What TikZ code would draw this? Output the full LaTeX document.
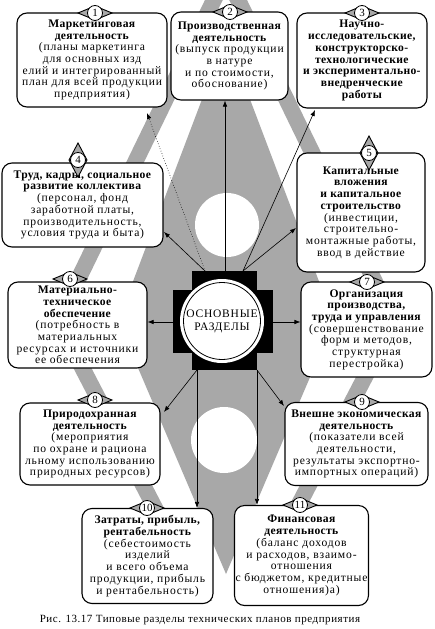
\documentclass[tikz,border=0pt]{standalone}
\usepackage{fontspec}
\setmainfont{Liberation Serif}
\newfontfamily\boxfont[LetterSpace=7, BoldFeatures={LetterSpace=3}]{Liberation Serif}
\newfontfamily\capfont[LetterSpace=5]{Liberation Serif}
\usetikzlibrary{arrows.meta}
\definecolor{bgray}{RGB}{168,168,168}
\newcommand\hbadge[3]{%
  \path[badgefill] (#2) +(-17,0) -- +(0,-7) -- +(17,0) -- +(0,7) -- cycle;
  \node[numc] (#1) at (#2) {#3};}
\newcommand\vbadge[3]{%
  \path[badgefill] (#2) +(0,-17) -- +(9,0) -- +(0,17) -- +(-9,0) -- cycle;
  \node[numc] (#1) at (#2) {#3};}
\begin{document}
\begin{tikzpicture}[x=1pt,y=-1pt,
  box/.style={draw, line width=1.1pt, rounded corners=10pt, fill=white, align=center,
    inner sep=1pt, font=\boxfont\fontsize{11.6}{11.7}\selectfont},
  conn/.style={line width=0.6pt, -{Latex[length=6pt,width=4.5pt]}},
  dconn/.style={conn, dotted},
  badgefill/.style={draw, fill=bgray, line width=0.9pt},
  numc/.style={circle, draw, fill=white, line width=0.8pt, inner sep=0pt,
    minimum size=15pt, font=\fontsize{11}{11}\selectfont},
]
\useasboundingbox (0,0) rectangle (435,629);
\fill[white] (0,0) rectangle (435,629);
% background ornament
\begin{scope}
\clip (0,0) rectangle (435,600);
\draw[bgray, line width=16pt, line join=miter] (226,-25) -- (58,321) -- (226,645) -- (394,321) -- cycle;
\fill[bgray] (226,36) -- (118,321) -- (226,574) -- (334,321) -- cycle;
\fill[white] (227,225) circle (32);
\fill[white] (224,440) circle (33);
\end{scope}

% centre
\fill[black] (192,271) rectangle (257,370);
\fill[black] (173,290) rectangle (273,353);
\node[circle, fill=white, minimum size=84pt, inner sep=0pt] (c) at (222,321) {};
\draw[line width=0.8pt] (c.center) circle (38.5);
\node[align=center, font=\boxfont\fontsize{11.5}{13}\selectfont] (ct) at (222,321) {ОСНОВНЫЕ\\РАЗДЕЛЫ};

% boxes
\node[box, minimum width=150pt, minimum height=94pt] (b1) at (92,60)
 {\textbf{Маркетинговая}\\\textbf{деятельность}\\(планы маркетинга\\для основных изд\\елий и интегрированный\\план для всей продукции\\предприятия)};
\node[box, minimum width=117pt, minimum height=88pt] (b2) at (229.5,56)
 {\textbf{Производственная}\\\textbf{деятельность}\\(выпуск продукции\\в натуре\\и по стоимости,\\обоснование)};
\node[box, minimum width=130pt, minimum height=95pt] (b3) at (362,60.5)
 {\textbf{Научно-}\\\textbf{исследовательские,}\\\textbf{конструкторско-}\\\textbf{технологические}\\\textbf{и экспериментально-}\\\textbf{внедренческие}\\\textbf{работы}};
\node[box, minimum width=161pt, minimum height=84pt] (b4) at (82.5,205)
 {\textbf{Труд, кадры, социальное}\\\textbf{развитие коллектива}\\(персонал, фонд\\заработной платы,\\производительность,\\условия труда и быта)};
\node[box, minimum width=128pt, minimum height=119pt] (b5) at (361,212.5)
 {\textbf{Капитальные}\\\textbf{вложения}\\\textbf{и капитальное}\\\textbf{строительство}\\(инвестиции,\\строительно-\\монтажные работы,\\ввод в действие};
\node[box, minimum width=139pt, minimum height=86pt] (b6) at (77.5,325)
 {\textbf{Материально-}\\\textbf{техническое}\\\textbf{обеспечение}\\(потребность в\\материальных\\ресурсах и источники\\ее обеспечения};
\node[box, minimum width=131pt, minimum height=95pt] (b7) at (366.5,329.5)
 {\textbf{Организация}\\\textbf{производства,}\\\textbf{труда и управления}\\(совершенствование\\форм и методов,\\структурная\\перестройка)};
\node[box, minimum width=140pt, minimum height=82pt] (b8) at (90,444)
 {\textbf{Природохранная}\\\textbf{деятельность}\\(мероприятия\\по охране и рациона\\льному использованию\\природных ресурсов)};
\node[box, minimum width=143pt, minimum height=83pt] (b9) at (356.5,444)
 {\textbf{Внешне экономическая}\\\textbf{деятельность}\\(показатели всей\\деятельности,\\результаты экспортно-\\импортных операций)};
\node[box, minimum width=131pt, minimum height=95pt] (b10) at (147.5,556)
 {\textbf{Затраты, прибыль,}\\\textbf{рентабельность}\\(себестоимость\\изделий\\и всего объема\\продукции, прибыль\\и рентабельность)};
\node[box, minimum width=133pt, minimum height=100pt] (b11) at (301.5,555.5)
 {\textbf{Финансовая}\\\textbf{деятельность}\\(баланс доходов\\и расходов, взаимо-\\отношения\\с бюджетом, кредитные\\отношения)а)};

% badges
\hbadge{n1}{95,13}{1}
\hbadge{n2}{230,12}{2}
\hbadge{n3}{362,13}{3}
\vbadge{n4}{78,160}{4}
\vbadge{n5}{369,153}{5}
\hbadge{n6}{70,279}{6}
\hbadge{n7}{367,282}{7}
\hbadge{n8}{95,400}{8}
\hbadge{n9}{362,402}{9}
\hbadge{n10}{147,508}{10}
\hbadge{n11}{300,505}{11}

% connectors
\coordinate (tl) at (205,271);
\coordinate (tc) at (225,271);
\coordinate (tr) at (243,271);
\coordinate (ml) at (173,322);
\coordinate (mr) at (273,322);
\coordinate (bl) at (197,370);
\coordinate (br) at (257,370);
\coordinate (e1) at (147,113);
\coordinate (e3) at (315,110);
\coordinate (e4) at (164,232);
\coordinate (e5) at (296,228);
\coordinate (e8) at (164,412);
\coordinate (e9) at (284,406);
\draw[dconn] (tl) -- (e1);
\draw[conn] (tc) -- (tc |- b2.south);
\draw[conn] (tr) -- (e3);
\draw[conn] (tl) -- (e4);
\draw[conn] (tr) -- (e5);
\draw[conn] (ml) -- (ml -| b6.east);
\draw[conn] (mr) -- (mr -| b7.west);
\draw[conn] (bl) -- (e8);
\draw[conn] (br) -- (e9);
\draw[conn] (bl) -- (bl |- b10.north);
\draw[conn] (br) -- (br |- b11.north);

% caption
\node[font=\capfont\fontsize{11}{12}\selectfont] (cap) at (200,620) {Рис. 13.17 Типовые разделы технических планов предприятия};
\end{tikzpicture}
\end{document}
